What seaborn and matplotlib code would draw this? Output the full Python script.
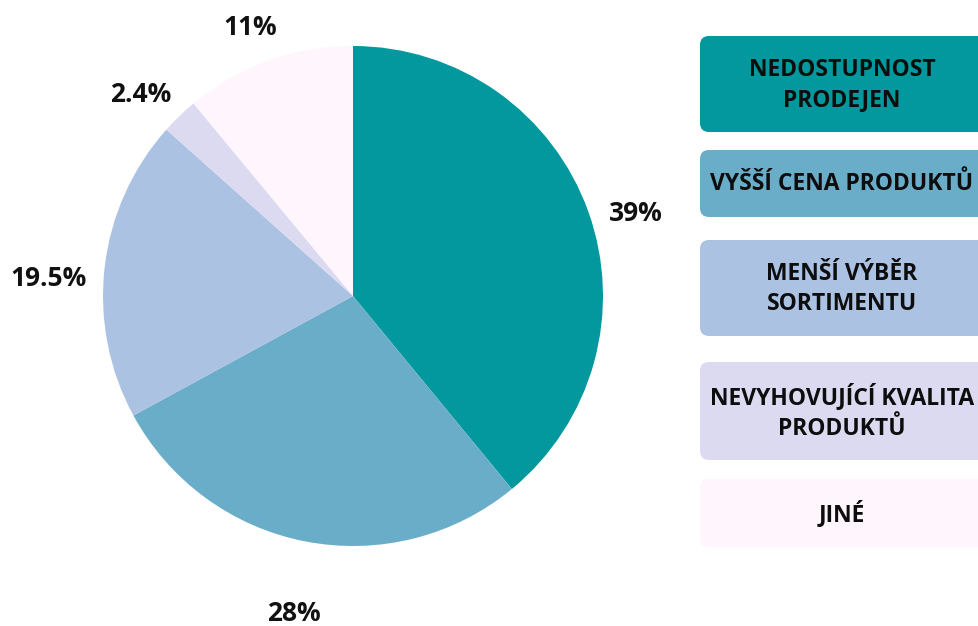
import matplotlib
matplotlib.use("Agg")
import matplotlib.pyplot as plt
import seaborn as sns
import numpy as np
from matplotlib.patches import FancyBboxPatch

sns.set_theme(style="white")
plt.rcParams['font.family'] = ['Open Sans', 'DejaVu Sans']

categories = ["NEDOSTUPNOST\nPRODEJEN", "VYŠŠÍ CENA PRODUKTŮ", "MENŠÍ VÝBĚR\nSORTIMENTU",
              "NEVYHOVUJÍCÍ KVALITA\nPRODUKTŮ", "JINÉ"]
values = [39, 28, 19.5, 2.4, 11]
pct_labels = ["39%", "28%", "19.5%", "2.4%", "11%"]
colors = ["#03989E", "#6AADC8", "#ABC2E3", "#DCDAF0", "#FEF5FD"]

W, H = 979, 626
fig = plt.figure(figsize=(W / 100, H / 100), dpi=100)

# pie axes: center (353,296), radius 250 px
ax = fig.add_axes([103 / W, (H - 546) / H, 500 / W, 500 / H])
wedges, texts = ax.pie(values, colors=colors, startangle=90, counterclock=False,
                       labels=pct_labels, labeldistance=1.2, radius=1,
                       textprops=dict(fontsize=19, fontweight="bold", color="#111111"),
                       wedgeprops=dict(linewidth=0))
dists = [1.18, 1.29, 1.22, 1.17, 1.15]
ang_off = [-3.5, 0.5, 3.3, 2.5, 1.2]
for w, t, d, o in zip(wedges, texts, dists, ang_off):
    ang = np.deg2rad((w.theta1 + w.theta2) / 2 + o)
    t.set_position((d * np.cos(ang), d * np.sin(ang)))
    t.set_ha("center")
    t.set_va("center")
ax.set_xlim(-1, 1)
ax.set_ylim(-1, 1)
ax.set_aspect("equal")
ax.axis("off")

# legend boxes
box_ax = fig.add_axes([0, 0, 1, 1])
box_ax.set_xlim(0, W)
box_ax.set_ylim(H, 0)
box_ax.axis("off")
box_tops = [36, 150, 240, 362, 479]
box_bottoms = [132, 217, 336, 460, 547]
for cat, col, top, bot in zip(categories, colors, box_tops, box_bottoms):
    box_ax.add_patch(FancyBboxPatch((700, top), 300, bot - top,
                                    boxstyle="round,pad=0,rounding_size=9",
                                    facecolor=col, edgecolor="none", clip_on=False))
    box_ax.text(842, (top + bot) / 2 + 1, cat, ha="center", va="center",
                fontsize=16.5, fontweight="bold", color="#0d0d0d", linespacing=1.35)

fig.savefig("out.png", dpi=100)
